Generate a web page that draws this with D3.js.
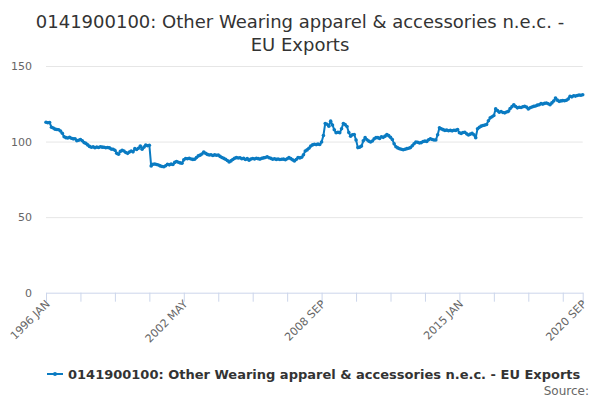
<!DOCTYPE html>
<html>
<head>
<meta charset="utf-8">
<script src="https://cdn.jsdelivr.net/npm/d3@7"></script>
<style>
  body { margin: 0; background: #fff; }
  svg { font-family: "DejaVu Sans", Verdana, sans-serif; }
</style>
</head>
<body>
<svg id="chart" width="600" height="400"></svg>
<script>
// monthly index values, 1996 JAN .. 2020 SEP
var monthNames = ["JAN","FEB","MAR","APR","MAY","JUN","JUL","AUG","SEP","OCT","NOV","DEC"];
var startYear = 1996;
var values = [
  112.8, 112.5, 112.6, 109.5, 109, 108.2, 108, 107.8, 107, 105.5, 103.2, 102.6,   // 1996
  102.4, 102.8, 102.2, 101.8, 101.9, 100.6, 100.9, 101.4, 100.5, 99.3, 98.8, 97.8, // 1997
  96.8, 96.2, 96.5, 95.9, 96.4, 96.1, 96.6, 96.3, 96.2, 95.9, 96.1, 95.8,         // 1998
  95, 94.9, 94.3, 92.2, 91.6, 93.5, 94.2, 93.8, 92.8, 92.2, 93.1, 93.8,           // 1999
  93.2, 95.3, 94.8, 95.6, 97, 94.9, 96.3, 97.7, 97.2, 97.6, 83.9, 85,             // 2000
  85.2, 84.8, 84.5, 83.9, 83.5, 83.3, 84, 85, 84.6, 85.1, 84.8, 86.2,             // 2001
  86.8, 86.3, 85.9, 85.7, 87.9, 88.8, 88.6, 88.9, 88.5, 88.2, 88.3, 89.5,         // 2002
  90.5, 91, 91.8, 93.1, 92.2, 91.5, 91.1, 91.3, 90.8, 91.2, 90.9, 91.1,           // 2003
  90.2, 89.5, 88.9, 88.3, 87.5, 86.5, 87.2, 88.1, 88.9, 89.4, 89.1, 89.3,         // 2004
  88.6, 88.9, 88.1, 88.7, 87.7, 88.4, 88.8, 88.5, 89, 88.7, 88.4, 88.9,           // 2005
  89.2, 89.5, 90, 89.3, 88.9, 88.3, 88.6, 88.2, 88.5, 88.1, 88.3, 88.4,           // 2006
  88, 88.6, 89.4, 88.7, 87.9, 87.2, 88.1, 89.4, 89.2, 89.6, 91.2, 93.8,           // 2007
  94.5, 95.6, 97, 97.8, 98.2, 98, 98.3, 98.1, 99.7, 104, 112, 111.5,              // 2008
  110.2, 113.5, 111, 107.8, 105.8, 106.2, 105.8, 108.5, 112, 111.2, 110, 106,     // 2009
  103.6, 104.5, 104.7, 101, 96, 96.3, 97, 100.5, 102.6, 101.2, 100.3, 99.7,       // 2010
  100.4, 101.8, 102.6, 102.6, 102.1, 103.2, 102.8, 103.6, 104.7, 103.9, 102.8, 101.4, // 2011
  98.5, 96.6, 95.8, 95.2, 94.9, 94.6, 94.9, 95.3, 95.6, 96, 97.2, 98.6,           // 2012
  99.7, 99.5, 99.1, 99.3, 100, 100.3, 100.1, 101.2, 101.9, 101.4, 101, 101,       // 2013
  104.5, 109.1, 108.4, 107.9, 107.4, 107.6, 107.2, 107.4, 107.1, 107.5, 107.4, 108, // 2014
  105.8, 105.4, 106, 106.2, 105.1, 104.3, 104.9, 105.4, 104.5, 102.6, 108.5, 109.4, // 2015
  110.2, 110.6, 110.9, 111.3, 113.8, 115.7, 116.4, 117.2, 121.6, 120.5, 119.4, 119.9, // 2016
  119.2, 119, 119.6, 120, 121.8, 123.1, 124.4, 123.2, 122.3, 122.7, 122.5, 123,   // 2017
  123.3, 122.8, 121.6, 122.4, 122.9, 123.3, 123.5, 124.1, 124.4, 125.1, 124.8, 125.3, // 2018
  125.5, 125, 124.4, 125.6, 126.8, 128.8, 127.4, 126.6, 126.9, 127.1, 127, 127.3, // 2019
  128.2, 129.9, 129.6, 130.3, 130.1, 130.5, 130.8, 130.6, 131                     // 2020
];
var categories = values.map(function (v, i) {
  return (startYear + Math.floor(i / 12)) + " " + monthNames[i % 12];
});
var yTicks = [0, 50, 100, 150];
var labelledCats = ["1996 JAN", "2002 MAY", "2008 SEP", "2015 JAN", "2020 SEP"];
var titleLines = ["0141900100: Other Wearing apparel & accessories n.e.c. -", "EU Exports"];
var seriesName = "0141900100: Other Wearing apparel & accessories n.e.c. - EU Exports";
var lineColor = "#0a7bc2";

var svg = d3.select("#chart");

var left = 46, right = 582.7, bottom = 292.7;
var x = d3.scalePoint().domain(categories).range([left, right]);
var y = d3.scaleLinear().domain([0, 150]).range([bottom, 66]);

// title
svg.append("text")
  .attr("x", 300).attr("y", 28)
  .attr("text-anchor", "middle")
  .style("font-size", "18px").style("fill", "#333")
  .selectAll("tspan").data(titleLines).enter().append("tspan")
  .attr("x", 300).attr("dy", function (d, i) { return i ? 23 : 0; })
  .text(function (d) { return d; });

// y grid + labels
var yAxis = svg.append("g").attr("transform", "translate(" + left + ",0)")
  .call(d3.axisLeft(y).tickValues(yTicks).tickSize(-(right - left)).tickPadding(14));
yAxis.select(".domain").remove();
yAxis.selectAll(".tick line").attr("stroke", "#e6e6e6");
yAxis.selectAll(".tick text").style("font-size", "11px").style("fill", "#666")
  .style("font-family", "DejaVu Sans, sans-serif");
yAxis.selectAll(".tick").filter(function (d) { return d === 0; }).select("line").remove();

// x axis
var tickCats = categories.filter(function (c, i) { return i % 19 === 0; });
tickCats.push(categories[categories.length - 1]);
var xAxis = svg.append("g").attr("transform", "translate(0," + bottom + ")")
  .call(d3.axisBottom(x).tickValues(tickCats).tickSize(9).tickSizeOuter(0)
    .tickFormat(function (d) { return labelledCats.indexOf(d) >= 0 ? d : ""; }));
xAxis.select(".domain").attr("stroke", "#ccd6eb");
xAxis.selectAll(".tick line").attr("stroke", "#ccd6eb");
xAxis.selectAll(".tick text")
  .style("font-size", "11px").style("fill", "#666")
  .style("font-family", "DejaVu Sans, sans-serif")
  .attr("text-anchor", "end")
  .attr("dy", null).attr("y", 0)
  .attr("transform", "translate(4,12) rotate(-45)");

// series
var line = d3.line()
  .x(function (d, i) { return x(categories[i]); })
  .y(function (d) { return y(d); });
svg.append("path").datum(values)
  .attr("d", line)
  .attr("fill", "none").attr("stroke", lineColor)
  .attr("stroke-width", 2).attr("stroke-linejoin", "round");
svg.append("g").selectAll("circle").data(values).enter().append("circle")
  .attr("cx", function (d, i) { return x(categories[i]); })
  .attr("cy", function (d) { return y(d); })
  .attr("r", 1.8).attr("fill", lineColor);

// legend
var lg = svg.append("g").attr("transform", "translate(47,374)");
lg.append("line").attr("x1", 0).attr("x2", 16).attr("y1", 0).attr("y2", 0)
  .attr("stroke", lineColor).attr("stroke-width", 2);
lg.append("circle").attr("cx", 8).attr("cy", 0).attr("r", 2).attr("fill", lineColor);
lg.append("text").attr("x", 21).attr("y", 5)
  .style("font-size", "13px").style("font-weight", "bold").style("fill", "#333")
  .text(seriesName);

svg.append("text").attr("x", 589).attr("y", 395).attr("text-anchor", "end")
  .style("font-size", "12px").style("fill", "#666").text("Source:");
</script>
</body>
</html>
